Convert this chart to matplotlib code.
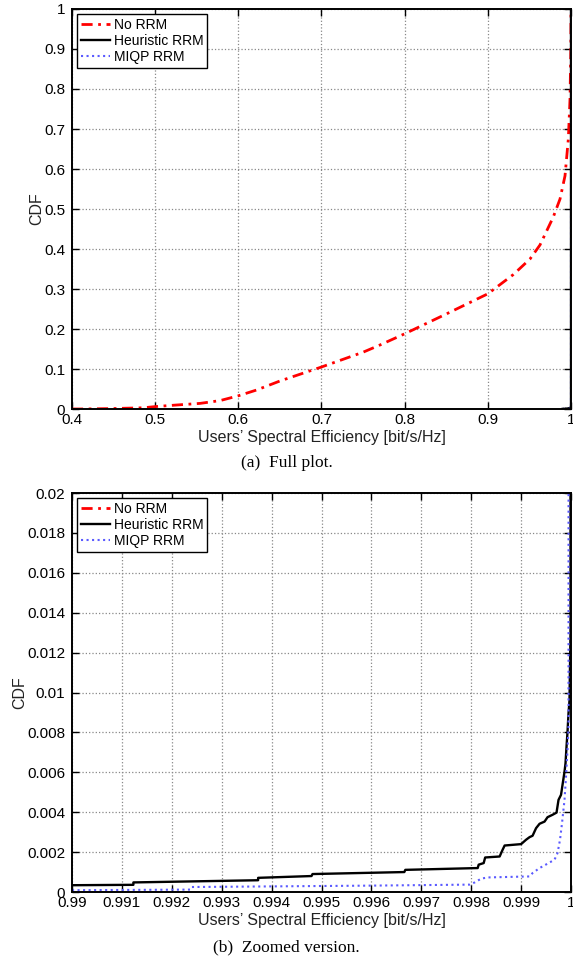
import matplotlib
matplotlib.use("Agg")
import matplotlib.pyplot as plt
import numpy as np

# CDF of users' spectral efficiency
no_rrm_x = [0.40, 0.41, 0.4457, 0.4657, 0.4857, 0.50, 0.5259, 0.5539, 0.578, 0.60,
            0.622, 0.65, 0.70, 0.75, 0.7703, 0.80, 0.8505, 0.90, 0.9306, 0.9507,
            0.9627, 0.9707, 0.9787, 0.9868, 0.9928, 0.9968, 0.9988, 0.9998, 1.0]
no_rrm_y = [0.0, 0.0, 0.001, 0.002, 0.003, 0.006, 0.010, 0.014, 0.021, 0.033,
            0.0475, 0.07, 0.105, 0.142, 0.160, 0.188, 0.238, 0.288, 0.336, 0.375,
            0.41, 0.445, 0.48, 0.525, 0.583, 0.675, 0.775, 0.90, 1.0]

heur_x = [0.99, 0.99123, 0.99123, 0.99373, 0.99373, 0.9948, 0.99482, 0.99666, 0.99668,
          0.99813, 0.99815, 0.99825, 0.99828, 0.99857, 0.99863, 0.99867, 0.99900,
          0.9991, 0.99917, 0.99923, 0.9993, 0.99937, 0.99947, 0.99953, 0.99963,
          0.99971, 0.99975, 0.9998, 0.99983, 0.99987, 0.99989, 0.99991, 0.99993,
          0.99995, 0.99997, 0.99999, 1.0]
heur_y = [0.00034, 0.00036, 0.00048, 0.00059, 0.00071, 0.0008, 0.0009, 0.0010, 0.00111,
          0.0012, 0.00137, 0.00145, 0.00173, 0.00178, 0.00212, 0.00233, 0.0024,
          0.00262, 0.00275, 0.00282, 0.0032, 0.00342, 0.00353, 0.00375, 0.00387,
          0.00398, 0.00462, 0.00487, 0.00537, 0.00603, 0.00645, 0.00728, 0.00803,
          0.00895, 0.0096, 0.013, 1.0]

miqp_x = [0.99, 0.99237, 0.99240, 0.9960, 0.99797, 0.99807, 0.9982, 0.99833, 0.99917,
          0.99923, 0.99937, 0.99953, 0.99967, 0.99973, 0.99978, 0.99982, 0.99987,
          0.9999, 0.99993, 0.99995, 1.0]
miqp_y = [0.00009, 0.00012, 0.00025, 0.00032, 0.00037, 0.00048, 0.00067, 0.00073, 0.00078,
          0.00095, 0.0012, 0.00142, 0.00162, 0.00195, 0.00262, 0.00345, 0.00462,
          0.00578, 0.00712, 0.00828, 1.0]

labels = ["No RRM", "Heuristic RRM", "MIQP RRM"]
xlabel = "Users\u2019 Spectral Efficiency [bit/s/Hz]"

top_xticks = [0.4, 0.5, 0.6, 0.7, 0.8, 0.9, 1.0]
top_xticklabels = ["0.4", "0.5", "0.6", "0.7", "0.8", "0.9", "1"]
top_yticks = [0, 0.1, 0.2, 0.3, 0.4, 0.5, 0.6, 0.7, 0.8, 0.9, 1.0]
top_yticklabels = ["0", "0.1", "0.2", "0.3", "0.4", "0.5", "0.6", "0.7", "0.8", "0.9", "1"]

bot_xticks = [0.99, 0.991, 0.992, 0.993, 0.994, 0.995, 0.996, 0.997, 0.998, 0.999, 1.0]
bot_xticklabels = ["0.99", "0.991", "0.992", "0.993", "0.994", "0.995", "0.996",
                   "0.997", "0.998", "0.999", "1"]
bot_yticks = [0, 0.002, 0.004, 0.006, 0.008, 0.01, 0.012, 0.014, 0.016, 0.018, 0.02]
bot_yticklabels = ["0", "0.002", "0.004", "0.006", "0.008", "0.01", "0.012", "0.014",
                   "0.016", "0.018", "0.02"]

plt.rcParams["font.family"] = ["Liberation Sans", "DejaVu Sans"]


def _style(ax, xticks, xtl, yticks, ytl, xlim, ylim):
    ax.plot(no_rrm_x, no_rrm_y, color="red", linestyle="-.", linewidth=2.0,
            dashes=(4, 2, 1, 2), label=labels[0])
    ax.plot(heur_x, heur_y, color="black", linestyle="-", linewidth=1.7, label=labels[1])
    ax.plot(miqp_x, miqp_y, color="#5a5aff", linestyle=":", linewidth=1.5, label=labels[2])
    ax.set_xlim(*xlim)
    ax.set_ylim(*ylim)
    ax.set_xticks(xticks)
    ax.set_xticklabels(xtl)
    ax.set_yticks(yticks)
    ax.set_yticklabels(ytl)
    ax.tick_params(direction="in", top=True, right=True, labelsize=11, length=5,
                   width=1.0, colors="black")
    ax.tick_params(axis="y", pad=5)
    ax.tick_params(axis="x", pad=3)
    ax.grid(True, linestyle=":", color="#888888", linewidth=0.9)
    for s in ax.spines.values():
        s.set_linewidth(1.4)
    ax.set_xlabel(xlabel, fontsize=11.5, color="#222222", labelpad=2)
    ax.set_ylabel("CDF", fontsize=11.5, color="#222222", labelpad=0)
    leg = ax.legend(loc="upper left", fontsize=10, frameon=True, fancybox=False,
                    borderpad=0.3, labelspacing=0.15, handlelength=2.1,
                    handletextpad=0.25, borderaxespad=0.35)
    leg.get_frame().set_edgecolor("black")
    leg.get_frame().set_linewidth(1.0)
    leg.get_frame().set_alpha(1.0)


fig = plt.figure(figsize=(5.73, 9.63), dpi=100)

ax1 = fig.add_axes([72 / 573, (963 - 409) / 963, 499 / 573, 400 / 963])
_style(ax1, top_xticks, top_xticklabels, top_yticks, top_yticklabels, (0.4, 1.0), (0, 1))

ax2 = fig.add_axes([72 / 573, (963 - 892) / 963, 499 / 573, 399 / 963])
_style(ax2, bot_xticks, bot_xticklabels, bot_yticks, bot_yticklabels, (0.99, 1.0), (0, 0.02))

fig.text(0.5, 1 - 463 / 963, "(a)  Full plot.", ha="center", va="center",
         fontsize=12.5, family=["Liberation Serif", "DejaVu Serif"])
fig.text(0.5, 1 - 947 / 963, "(b)  Zoomed version.", ha="center", va="center",
         fontsize=12.5, family=["Liberation Serif", "DejaVu Serif"])

fig.savefig("out.png", dpi=100)
plt.close(fig)
